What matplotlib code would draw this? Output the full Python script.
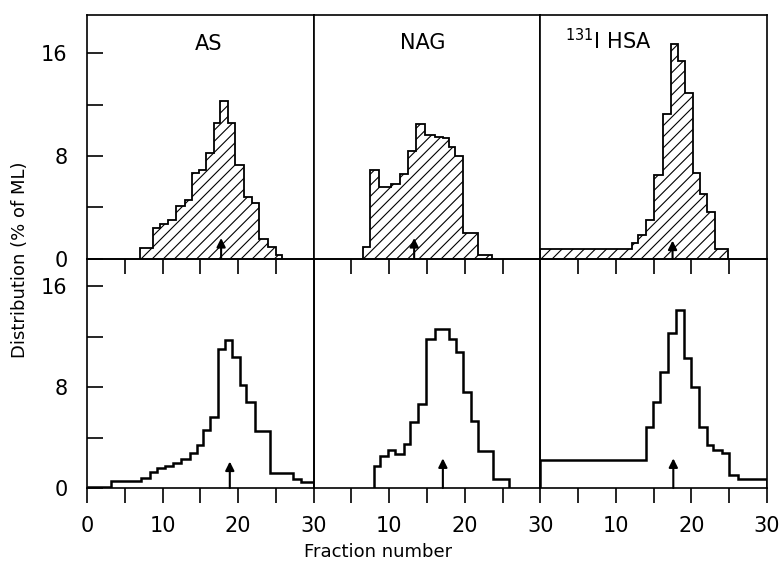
import matplotlib
matplotlib.use("Agg")
import matplotlib.pyplot as plt

# values (fraction number edges, % of ML)
# top row: hatched histograms
as_top_edges = [7.0, 8.8, 9.6, 10.7, 11.8, 13.0, 13.9, 14.8, 15.8, 16.8, 17.6, 18.6, 19.6, 20.8, 21.8, 22.8, 23.9, 25.0, 25.8]
as_top_vals = [0.8, 2.4, 2.7, 3.0, 4.1, 4.6, 6.7, 6.9, 8.2, 10.6, 12.3, 10.6, 7.3, 4.8, 4.35, 1.55, 0.9, 0.25]

nag_top_edges = [6.55, 7.5, 8.6, 10.3, 11.4, 12.5, 13.6, 14.8, 16.1, 17.1, 17.9, 18.7, 19.8, 21.7, 23.6]
nag_top_vals = [0.9, 6.9, 5.6, 5.8, 6.6, 8.4, 10.5, 9.6, 9.5, 9.4, 8.7, 8.0, 2.0, 0.25]

hsa_top_edges = [0, 12.1, 12.9, 14.0, 15.1, 16.2, 17.3, 18.2, 19.1, 20.2, 21.1, 22.1, 23.1, 24.8]
hsa_top_vals = [0.75, 1.2, 1.8, 3.0, 6.5, 11.3, 16.7, 15.4, 12.9, 6.7, 5.0, 3.6, 0.75]

# bottom row: open step lines
as_bot_edges = [0.15, 3.2, 7.2, 8.3, 9.3, 10.3, 11.4, 12.5, 13.6, 14.5, 15.4, 16.3, 17.3, 18.3, 19.2, 20.2, 21.1, 22.2, 24.2, 27.2, 28.3, 30.0]
as_bot_vals = [0.1, 0.55, 0.77, 1.3, 1.56, 1.77, 2.0, 2.3, 2.75, 3.4, 4.6, 5.6, 11.0, 11.75, 10.4, 8.2, 6.85, 4.5, 1.2, 0.7, 0.5]

nag_bot_edges = [8.0, 8.8, 9.8, 10.7, 11.9, 12.8, 13.8, 14.9, 16.0, 17.95, 18.8, 19.8, 20.8, 21.75, 23.8, 25.8]
nag_bot_vals = [1.75, 2.5, 3.0, 2.7, 3.5, 5.2, 6.7, 11.8, 12.6, 11.8, 10.8, 7.6, 5.3, 2.9, 0.7]

hsa_bot_edges = [0, 14.0, 14.9, 15.9, 16.9, 18.0, 19.0, 20.0, 21.0, 22.1, 22.9, 24.0, 25.0, 26.2, 30.0]
hsa_bot_vals = [2.2, 4.8, 6.8, 9.2, 12.3, 14.1, 10.3, 8.0, 4.8, 3.4, 3.0, 2.8, 1.0, 0.7]

# arrows (position, tip height)
top_arrows = [(17.75, 1.6), (13.3, 1.6), (17.5, 1.4)]
bot_arrows = [(18.9, 2.1), (17.1, 2.35), (17.6, 2.35)]

panel_names = ["AS", "NAG", r"$^{131}$I HSA"]
name_pos = [(16.1, 16.7, "center"), (14.4, 16.8, "center"), (3.2, 17.0, "left")]

plt.rcParams["hatch.linewidth"] = 0.8

fig, axes = plt.subplots(2, 3, figsize=(7.82, 5.74), dpi=100,
                         gridspec_kw=dict(height_ratios=[243, 229]))
fig.subplots_adjust(left=87/782, right=767/782, top=1-15/574, bottom=1-488/574,
                    wspace=0, hspace=0)

tops = [(as_top_edges, as_top_vals), (nag_top_edges, nag_top_vals), (hsa_top_edges, hsa_top_vals)]
bots = [(as_bot_edges, as_bot_vals), (nag_bot_edges, nag_bot_vals), (hsa_bot_edges, hsa_bot_vals)]

for i in range(3):
    at = axes[0, i]
    ab = axes[1, i]
    ab.set_facecolor("none")

    e, v = tops[i]
    at.stairs(v, e, baseline=0, fill=True, facecolor="white", edgecolor="black",
              hatch="///", linewidth=1.3)
    e, v = bots[i]
    ab.stairs(v, e, baseline=0, fill=False, color="black", linewidth=1.8)

    for ax, arr in ((at, top_arrows[i]), (ab, bot_arrows[i])):
        ax.annotate("", xy=(arr[0], arr[1]), xytext=(arr[0], 0),
                    arrowprops=dict(arrowstyle="-|>", color="black", lw=1.5,
                                    mutation_scale=13, shrinkA=0, shrinkB=0))

    x, y, ha = name_pos[i]
    at.text(x, y, panel_names[i], ha=ha, va="center", fontsize=15)

    at.set_ylim(0, 19)
    ab.set_ylim(0, 18.2)
    for ax in (at, ab):
        ax.set_xlim(0, 30)
        for s in ax.spines.values():
            s.set_linewidth(1.2)
        if i == 0:
            ax.set_yticks([0, 4, 8, 12, 16])
            ax.set_yticklabels(["0", "", "8", "", "16"])
            ax.tick_params(axis="y", direction="in", length=11.5, width=1.2,
                           pad=14, labelsize=15)
        else:
            ax.tick_params(axis="y", left=False, labelleft=False)

    at.set_xticks([5, 10, 15, 20, 25])
    at.tick_params(axis="x", direction="out", length=11, width=1.2, labelbottom=False)

    if i == 0:
        ab.set_xticks([0, 5, 10, 15, 20, 25, 30])
        ab.set_xticklabels(["0", "", "10", "", "20", "", "30"])
    else:
        ab.set_xticks([5, 10, 15, 20, 25, 30])
        ab.set_xticklabels(["", "10", "", "20", "", "30"])
    ab.tick_params(axis="x", direction="out", length=11, width=1.2, pad=9, labelsize=15)

fig.text(20/782, 1-260/574, "Distribution (% of ML)", rotation=90,
         ha="center", va="center", fontsize=13)
fig.text(378/782, 1-552/574, "Fraction number", ha="center", va="center", fontsize=13)

fig.savefig("out.png", dpi=100)
